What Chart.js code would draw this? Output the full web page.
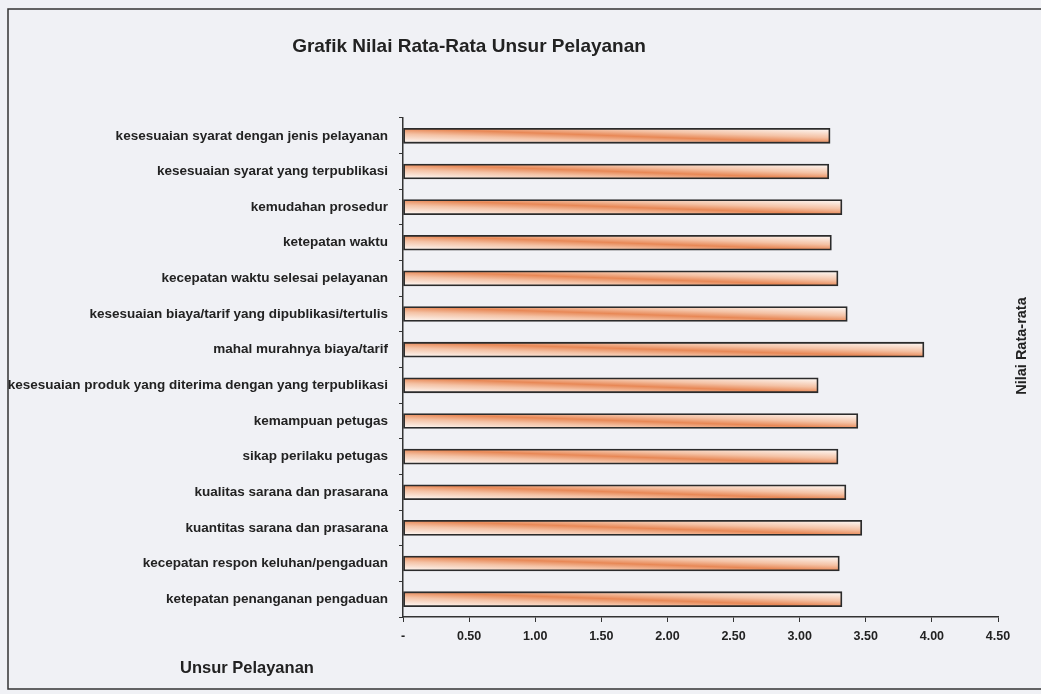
<!DOCTYPE html>
<html>
<head>
<meta charset="utf-8">
<script src="https://cdn.jsdelivr.net/npm/chart.js@4/dist/chart.umd.min.js"></script>
<style>
    html, body { margin: 0; padding: 0; background: #f0f1f5; }
    #wrap { position: relative; width: 1041px; height: 694px; }
</style>
</head>
<body>
<div id="wrap"><canvas id="chart" width="1041" height="694"></canvas></div>
<script>
const categories = [
    "kesesuaian syarat dengan jenis pelayanan",
    "kesesuaian syarat yang terpublikasi",
    "kemudahan prosedur",
    "ketepatan waktu",
    "kecepatan waktu selesai pelayanan",
    "kesesuaian biaya/tarif yang dipublikasi/tertulis",
    "mahal murahnya biaya/tarif",
    "kesesuaian produk yang diterima dengan yang terpublikasi",
    "kemampuan petugas",
    "sikap perilaku petugas",
    "kualitas sarana dan prasarana",
    "kuantitas sarana dan prasarana",
    "kecepatan respon keluhan/pengaduan",
    "ketepatan penanganan pengaduan"
];
const nilai = [3.23, 3.22, 3.32, 3.24, 3.29, 3.36, 3.94, 3.14, 3.44, 3.29, 3.35, 3.47, 3.30, 3.32];

const chartTitle = "Grafik Nilai Rata-Rata Unsur Pelayanan";
const xTitle = "Nilai Rata-rata";
const yTitle = "Unsur Pelayanan";

const FONT = "'Liberation Sans', Arial, sans-serif";

// frame, background and the loose titles placed like the original sheet
const decor = {
    id: "decor",
    beforeDraw(chart) {
        const c = chart.ctx;
        c.save();
        c.fillStyle = "#f0f1f5";
        c.fillRect(0, 0, chart.width, chart.height);
        c.strokeStyle = "#333";
        c.lineWidth = 1.5;
        c.strokeRect(8, 9, 1040, 680);
        c.restore();
    },
    afterDraw(chart) {
        const c = chart.ctx;
        c.save();
        c.fillStyle = "#222";
        c.textBaseline = "middle";
        c.font = "bold 19px " + FONT;
        c.textAlign = "center";
        c.fillText(chartTitle, 469, 47);
        c.font = "bold 16.5px " + FONT;
        c.textAlign = "left";
        c.fillText(yTitle, 180, 668);
        c.translate(1022, 346);
        c.rotate(-Math.PI / 2);
        c.textAlign = "center";
        c.font = "bold 14.5px " + FONT;
        c.fillText(xTitle, 0, 0);
        c.restore();
    }
};

// orange band runs diagonally: top at the left end, bottom at the right end
function barFill(ctx) {
    const chart = ctx.chart;
    const xs = chart.scales.x, ys = chart.scales.y;
    if (!xs || !ys || ctx.dataIndex === undefined) return "#eaa07c";
    const mid = ys.getPixelForValue(ctx.dataIndex);
    const x0 = xs.getPixelForValue(0);
    const x1 = xs.getPixelForValue(ctx.raw);
    if (![mid, x0, x1].every(isFinite)) return "#eaa07c";
    const len = Math.max(x1 - x0, 1), h = 15;
    const norm = Math.hypot(h, len);
    const nx = -h / norm, ny = len / norm, r = 14;
    const cx = (x0 + x1) / 2;
    const g = chart.ctx.createLinearGradient(cx - nx * r, mid - ny * r, cx + nx * r, mid + ny * r);
    g.addColorStop(0, "#fdf7f3");
    g.addColorStop(0.3, "#f4c2a5");
    g.addColorStop(0.5, "#e88856");
    g.addColorStop(0.7, "#f4c2a5");
    g.addColorStop(1, "#fdf7f3");
    return g;
}

new Chart(document.getElementById("chart"), {
    type: "bar",
    data: {
        labels: categories,
        datasets: [{
            label: "Nilai Rata-rata",
            data: nilai,
            backgroundColor: barFill,
            borderColor: "#2b2b2b",
            borderWidth: 1.8,
            borderSkipped: false,
            barThickness: 15
        }]
    },
    plugins: [decor],
    options: {
        indexAxis: "y",
        responsive: false,
        animation: false,
        layout: { padding: { left: 0, top: 118, right: 43, bottom: 47 } },
        plugins: {
            legend: { display: false },
            title: { display: false },
            tooltip: { enabled: false }
        },
        scales: {
            x: {
                min: 0,
                max: 4.5,
                afterFit(scale) { scale.height = 30; },
                ticks: {
                    stepSize: 0.5,
                    color: "#222",
                    padding: 7,
                    font: { family: FONT, size: 12.5, weight: "bold" },
                    callback: v => v === 0 ? "-" : v.toFixed(2)
                },
                grid: { drawOnChartArea: false, tickLength: 5, color: "#333" },
                border: { color: "#333", width: 1.5 }
            },
            y: {
                afterFit(scale) { scale.width = 403; },
                ticks: {
                    color: "#222",
                    padding: 11,
                    font: { family: FONT, size: 13.5, weight: "bold" }
                },
                grid: { drawOnChartArea: false, tickLength: 4, color: "#333", offset: true },
                border: { color: "#333", width: 1.5 }
            }
        }
    }
});
</script>
</body>
</html>
